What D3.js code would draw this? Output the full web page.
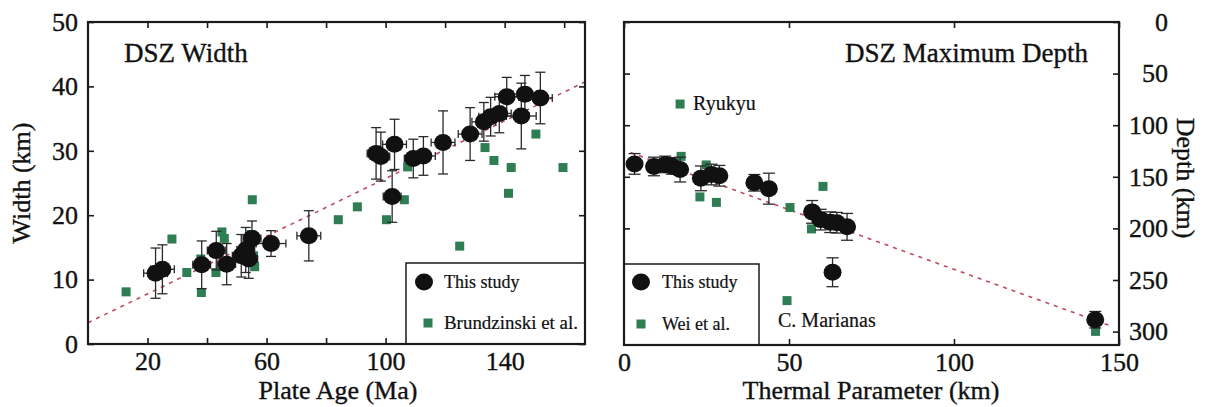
<!DOCTYPE html>
<html>
<head>
<meta charset="utf-8">
<script src="https://cdn.jsdelivr.net/npm/d3@7"></script>
<style>
  html, body { margin: 0; padding: 0; background: #fff; }
  svg { display: block; }
  text { font-family: "Liberation Serif", "Times New Roman", serif; fill: #111; stroke: #111; stroke-width: 0.35px; }
</style>
</head>
<body>
<svg id="chart" width="1205" height="407"></svg>
<script>
// ---- DSZ width vs. plate age (this study): [age Ma, width km, width err, age err]
const widthAge = [22.7, 25.0, 38.2, 43.1, 46.6, 51.5, 53.0, 54.0, 55.1, 61.5, 74.2,
  96.8, 98.4, 103.0, 102.2, 109.3, 112.7, 119.3, 128.4, 133.0, 135.3, 138.2, 140.7, 145.6, 146.8, 152.0];
const widthKm = [11.0, 11.6, 12.3, 14.5, 12.4, 13.7, 14.6, 13.2, 16.4, 15.6, 16.8,
  29.6, 29.1, 31.0, 22.9, 28.8, 29.2, 31.3, 32.6, 34.5, 35.3, 35.8, 38.4, 35.4, 38.8, 38.2];
const widthErr = [3.9, 3.8, 3.7, 3.0, 3.2, 3.3, 3.5, 3.0, 2.7, 2.0, 3.9,
  4.0, 3.8, 3.9, 4.0, 3.0, 3.0, 4.9, 4.1, 3.0, 3.0, 3.0, 3.0, 5.1, 2.9, 4.0];
const ageErr = [4, 4, 3, 3, 3, 3, 3, 3, 3, 5, 4,
  3, 3, 4, 3, 3, 4, 4, 4, 4, 4, 4, 4, 5, 4, 4];

// ---- Brundzinski et al. widths
const brAge = [12.8, 28.2, 33.2, 38.1, 37.9, 43.0, 45.0, 45.8, 55.2, 55.6, 56.0, 54.8,
  84.1, 90.5, 100.3, 106.3, 107.4, 124.9, 133.4, 136.4, 141.3, 142.2, 150.5, 159.6];
const brWidth = [8.1, 16.3, 11.1, 8.0, 13.2, 11.1, 17.4, 16.4, 22.4, 13.7, 12.0, 17.0,
  19.3, 21.3, 19.3, 22.4, 27.5, 15.2, 30.5, 28.5, 23.4, 27.4, 32.6, 27.4];

// ---- DSZ maximum depth vs. thermal parameter (this study)
const depthPhi = [3.2, 9.1, 12.5, 14.5, 17.0, 23.3, 26.5, 28.9, 39.5, 43.9,
  57.0, 59.6, 62.5, 64.5, 67.6, 63.2, 142.8];
const depthKm = [137.5, 140.0, 138.0, 139.5, 143.0, 151.5, 147.8, 149.0, 155.8, 161.5,
  184.0, 191.5, 194.0, 194.5, 198.5, 242.5, 288.5];
const depthErr = [10, 9, 8, 8, 12, 12, 10, 10, 8, 15,
  11, 10, 10, 10, 13, 14, 8];

// ---- Wei et al. depths
const weiPhi = [17.0, 17.3, 24.9, 23.0, 28.0, 50.3, 60.3, 56.8, 49.4, 142.9];
const weiDepth = [79.5, 130.2, 138.5, 169.5, 174.8, 179.8, 159.3, 200.5, 270.0, 299.8];

// ---- fitted trends: [x start, x end] and [y start, y end]
const widthFitAge = [0, 167];
const widthFitKm = [3.3, 40.7];
const depthFitPhi = [2, 147.5];
const depthFitKm = [126.5, 294.5];

// ---- axis ticks
const ageTicks = [20, 40, 60, 80, 100, 120, 140, 160];
const ageLabels = [20, 60, 100, 140];
const widthTicks = [0, 10, 20, 30, 40, 50];
const phiTicks = [0, 50, 100, 150];
const depthTicks = [0, 50, 100, 150, 200, 250, 300];

const GREEN = "#2f7d52";
const DASH = "#c04a5e";

const svg = d3.select("#chart");

const xL = d3.scaleLinear().domain([0, 167]).range([88, 585]);
const yL = d3.scaleLinear().domain([0, 50]).range([344, 22]);
const xR = d3.scaleLinear().domain([0, 150]).range([624, 1119]);
const yR = d3.scaleLinear().domain([0, 313]).range([22, 345]);

function frame(g, x, y) {
  g.append("rect")
    .attr("x", x.range()[0]).attr("y", Math.min(...y.range()))
    .attr("width", x.range()[1] - x.range()[0])
    .attr("height", Math.abs(y.range()[1] - y.range()[0]))
    .attr("fill", "none").attr("stroke", "#1a1a1a").attr("stroke-width", 2.2);
}

function styleAxis(g) {
  g.select(".domain").remove();
  g.selectAll(".tick line").attr("stroke", "#1a1a1a").attr("stroke-width", 1.6);
  g.selectAll(".tick text").style("font-size", "26px").attr("fill", "#111")
    .style("font-family", '"Liberation Serif", serif');
}

// ================= Left panel =================
const gL = svg.append("g");

// dashed trend
gL.append("line")
  .attr("x1", xL(widthFitAge[0])).attr("y1", yL(widthFitKm[0]))
  .attr("x2", xL(widthFitAge[1])).attr("y2", yL(widthFitKm[1]))
  .attr("stroke", DASH).attr("stroke-width", 1.6).attr("stroke-dasharray", "4,5");

// Brundzinski squares
gL.selectAll("rect.br").data(brAge.map((a, i) => [a, brWidth[i]])).join("rect")
  .attr("x", d => xL(d[0]) - 4.5).attr("y", d => yL(d[1]) - 4.5)
  .attr("width", 9).attr("height", 9).attr("fill", GREEN);

// error bars
const pL = widthAge.map((a, i) => ({ x: a, y: widthKm[i], ey: widthErr[i], ex: ageErr[i] }));
const eb = gL.append("g").attr("stroke", "#2a2a2a").attr("stroke-width", 1.3);
pL.forEach(d => {
  const cx = xL(d.x), cy = yL(d.y);
  const t = yL(d.y + d.ey), b = yL(d.y - d.ey);
  const l = xL(d.x - d.ex), r = xL(d.x + d.ex);
  eb.append("line").attr("x1", cx).attr("x2", cx).attr("y1", t).attr("y2", b);
  eb.append("line").attr("x1", cx - 5).attr("x2", cx + 5).attr("y1", t).attr("y2", t);
  eb.append("line").attr("x1", cx - 5).attr("x2", cx + 5).attr("y1", b).attr("y2", b);
  eb.append("line").attr("x1", l).attr("x2", r).attr("y1", cy).attr("y2", cy);
  eb.append("line").attr("x1", l).attr("x2", l).attr("y1", cy - 4).attr("y2", cy + 4);
  eb.append("line").attr("x1", r).attr("x2", r).attr("y1", cy - 4).attr("y2", cy + 4);
});
gL.selectAll("ellipse.ts").data(pL).join("ellipse")
  .attr("cx", d => xL(d.x)).attr("cy", d => yL(d.y))
  .attr("rx", 9).attr("ry", 8.5).attr("fill", "#111");

// axes (inward ticks on all four sides)
gL.append("g").attr("transform", "translate(0,344)")
  .call(d3.axisBottom(xL).tickValues(ageTicks).tickSize(-6).tickPadding(8)
    .tickFormat(d => ageLabels.includes(d) ? d : ""))
  .call(styleAxis);
gL.append("g").attr("transform", "translate(0,22)")
  .call(d3.axisTop(xL).tickValues(ageTicks).tickSize(-6).tickFormat(""))
  .call(styleAxis);
gL.append("g").attr("transform", "translate(88,0)")
  .call(d3.axisLeft(yL).tickValues(widthTicks).tickSize(-6).tickPadding(10))
  .call(styleAxis);
gL.append("g").attr("transform", "translate(585,0)")
  .call(d3.axisRight(yL).tickValues(widthTicks).tickSize(-6).tickFormat(""))
  .call(styleAxis);

// legend
const lgL = gL.append("g");
lgL.append("rect").attr("x", 406).attr("y", 263).attr("width", 179).attr("height", 81)
  .attr("fill", "#fff").attr("stroke", "#1a1a1a").attr("stroke-width", 1.5);
lgL.append("ellipse").attr("cx", 424).attr("cy", 282).attr("rx", 9).attr("ry", 8.5).attr("fill", "#111");
lgL.append("text").attr("x", 444).attr("y", 288).style("font-size", "18px").style("stroke-width", "0.2px").text("This study");
lgL.append("rect").attr("x", 423.5).attr("y", 318.5).attr("width", 9).attr("height", 9).attr("fill", GREEN);
lgL.append("text").attr("x", 444).attr("y", 329).style("font-size", "18px").style("stroke-width", "0.2px")
  .attr("textLength", 134).attr("lengthAdjust", "spacingAndGlyphs").text("Brundzinski et al.");

frame(gL, xL, yL);

gL.append("text").attr("x", 124).attr("y", 62).style("font-size", "27px").text("DSZ Width");
gL.append("text").attr("x", 338).attr("y", 399).attr("text-anchor", "middle")
  .style("font-size", "26px").text("Plate Age (Ma)");
gL.append("text").attr("transform", "translate(30,183) rotate(-90)").attr("text-anchor", "middle")
  .style("font-size", "26px").text("Width (km)");

// ================= Right panel =================
const gR = svg.append("g");

gR.append("line")
  .attr("x1", xR(depthFitPhi[0])).attr("y1", yR(depthFitKm[0]))
  .attr("x2", xR(depthFitPhi[1])).attr("y2", yR(depthFitKm[1]))
  .attr("stroke", DASH).attr("stroke-width", 1.6).attr("stroke-dasharray", "4,5");

gR.selectAll("rect.wei").data(weiPhi.map((p, i) => [p, weiDepth[i]])).join("rect")
  .attr("x", d => xR(d[0]) - 4.5).attr("y", d => yR(d[1]) - 4.5)
  .attr("width", 9).attr("height", 9).attr("fill", GREEN);

const pR = depthPhi.map((p, i) => ({ x: p, y: depthKm[i], e: depthErr[i] }));
const ebR = gR.append("g").attr("stroke", "#2a2a2a").attr("stroke-width", 1.3);
pR.forEach(d => {
  const cx = xR(d.x), t = yR(d.y - d.e), b = yR(d.y + d.e);
  ebR.append("line").attr("x1", cx).attr("x2", cx).attr("y1", t).attr("y2", b);
  ebR.append("line").attr("x1", cx - 6).attr("x2", cx + 6).attr("y1", t).attr("y2", t);
  ebR.append("line").attr("x1", cx - 6).attr("x2", cx + 6).attr("y1", b).attr("y2", b);
});
gR.selectAll("ellipse.ts").data(pR).join("ellipse")
  .attr("cx", d => xR(d.x)).attr("cy", d => yR(d.y))
  .attr("rx", 9).attr("ry", 8.5).attr("fill", "#111");

// annotations
gR.append("text").attr("x", xR(weiPhi[0]) + 13).attr("y", yR(weiDepth[0]) + 6)
  .style("font-size", "20px").style("stroke-width", "0.2px")
  .attr("fill", GREEN).attr("stroke", GREEN).text("Ryukyu");
gR.append("text").attr("x", xR(weiPhi[8]) - 9).attr("y", yR(weiDepth[8]) + 26)
  .style("font-size", "20px").style("stroke-width", "0.2px")
  .attr("fill", "#3f8f8a").attr("stroke", "#3f8f8a").text("C. Marianas");

gR.append("g").attr("transform", "translate(0,345)")
  .call(d3.axisBottom(xR).tickValues(phiTicks).tickSize(-6).tickPadding(8))
  .call(styleAxis);
gR.append("g").attr("transform", "translate(0,22)")
  .call(d3.axisTop(xR).tickValues(phiTicks).tickSize(-6).tickFormat(""))
  .call(styleAxis);
gR.append("g").attr("transform", "translate(624,0)")
  .call(d3.axisLeft(yR).tickValues(depthTicks).tickSize(-6).tickFormat(""))
  .call(styleAxis);
const axR = gR.append("g").attr("transform", "translate(1119,0)")
  .call(d3.axisRight(yR).tickValues(depthTicks).tickSize(-6).tickPadding(10))
  .call(styleAxis);
axR.selectAll(".tick text").attr("text-anchor", "end").attr("x", 49);

const lgR = gR.append("g");
lgR.append("rect").attr("x", 624).attr("y", 264).attr("width", 135).attr("height", 81)
  .attr("fill", "#fff").attr("stroke", "#1a1a1a").attr("stroke-width", 1.5);
lgR.append("ellipse").attr("cx", 641).attr("cy", 282).attr("rx", 9).attr("ry", 8.5).attr("fill", "#111");
lgR.append("text").attr("x", 662).attr("y", 288).style("font-size", "18px").style("stroke-width", "0.2px").text("This study");
lgR.append("rect").attr("x", 636.5).attr("y", 319.5).attr("width", 9).attr("height", 9).attr("fill", GREEN);
lgR.append("text").attr("x", 662).attr("y", 330).style("font-size", "18px").style("stroke-width", "0.2px").text("Wei et al.");

frame(gR, xR, yR);

gR.append("text").attr("x", 1088).attr("y", 62).attr("text-anchor", "end")
  .style("font-size", "27px").text("DSZ Maximum Depth");
gR.append("text").attr("x", 871).attr("y", 399).attr("text-anchor", "middle")
  .style("font-size", "26px").text("Thermal Parameter (km)");
gR.append("text").attr("transform", "translate(1177,178) rotate(90)").attr("text-anchor", "middle")
  .style("font-size", "26px").text("Depth (km)");
</script>
</body>
</html>
